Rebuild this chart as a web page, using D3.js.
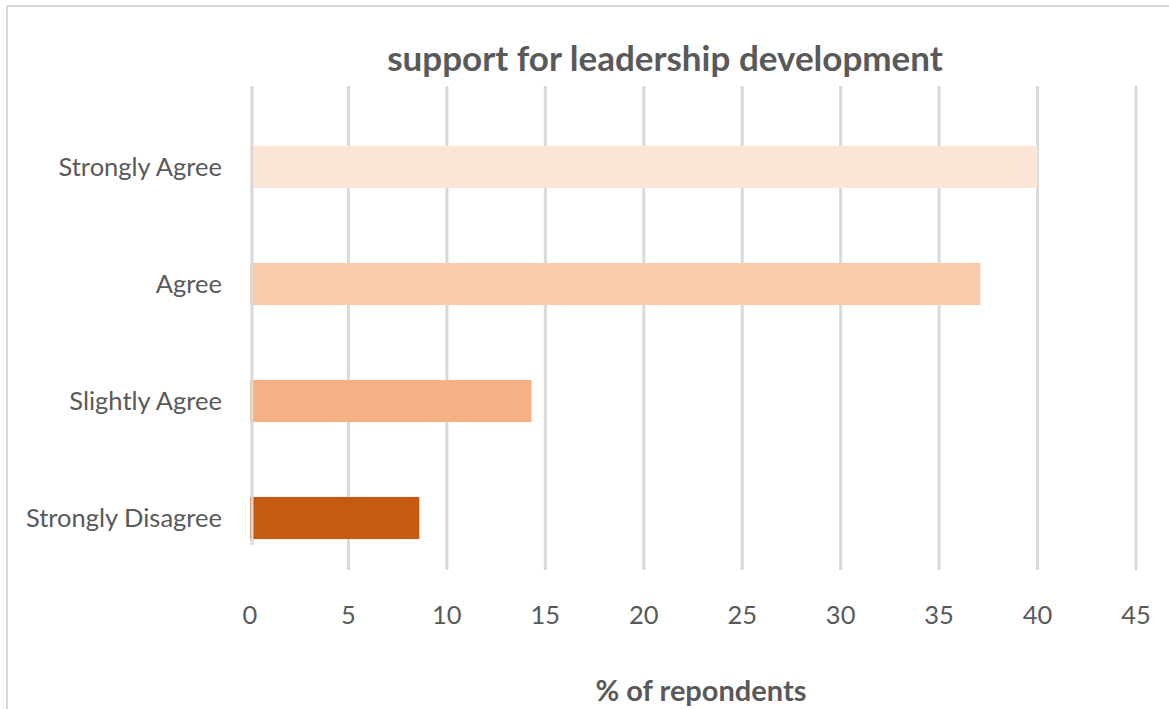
<!DOCTYPE html>
<html>
<head>
<meta charset="utf-8">
<script src="https://cdn.jsdelivr.net/npm/d3@7"></script>
<style>
  html, body { margin: 0; padding: 0; background: #fff; }
  svg { display: block; }
  text { font-family: Lato, "Open Sans", sans-serif; fill: #595959; }
</style>
</head>
<body>
<script>
const categories = ["Strongly Agree", "Agree", "Slightly Agree", "Strongly Disagree"];
const values = [40, 37.1, 14.3, 8.6];
const barColors = ["#FBE5D6", "#F8CBAD", "#F4B183", "#C55A11"];
const tickValues = [0, 5, 10, 15, 20, 25, 30, 35, 40, 45];
const titleText = "support for leadership development";
const xTitleText = "% of repondents";

const W = 1169, H = 709;
const svg = d3.select("body").append("svg").attr("width", W).attr("height", H);

// outer frame
svg.append("rect").attr("x", 7).attr("y", 6).attr("width", W + 20).attr("height", H + 20)
  .attr("fill", "none").attr("stroke", "#d9d9d9").attr("stroke-width", 2);

const x = d3.scaleLinear().domain([0, 45]).range([250, 1136]);
const y = d3.scaleBand().domain(categories).range([108.5, 576.5]).paddingInner(0.64).paddingOuter(0.32);

const gridTop = 86, gridBottom = 570;

// gridlines
svg.append("g").selectAll("line").data(tickValues.slice(1)).join("line")
  .attr("x1", d => x(d)).attr("x2", d => x(d))
  .attr("y1", gridTop).attr("y2", gridBottom)
  .attr("stroke", "#d9d9d9").attr("stroke-width", 3);

// bars
svg.append("g").selectAll("rect").data(categories).join("rect")
  .attr("x", x(0))
  .attr("y", d => y(d))
  .attr("width", (d, i) => x(values[i]) - x(0))
  .attr("height", y.bandwidth())
  .attr("fill", (d, i) => barColors[i]);

// zero line on top
svg.append("line").attr("x1", x(0) + 2).attr("x2", x(0) + 2)
  .attr("y1", gridTop).attr("y2", 545)
  .attr("stroke", "#d9d9d9").attr("stroke-width", 3);

// category labels
svg.append("g").selectAll("text").data(categories).join("text")
  .attr("x", 222).attr("y", d => y(d) + y.bandwidth() / 2)
  .attr("dy", "0.35em").attr("text-anchor", "end")
  .attr("font-size", 25.5).text(d => d);

// x tick labels
svg.append("g").selectAll("text").data(tickValues).join("text")
  .attr("x", d => x(d)).attr("y", 624)
  .attr("text-anchor", "middle").attr("font-size", 25.5).text(d => d);

// title
svg.append("text").attr("x", 665).attr("y", 71).attr("text-anchor", "middle")
  .attr("font-size", 35).attr("font-weight", "bold").text(titleText);

// x axis title
svg.append("text").attr("x", 701).attr("y", 701).attr("text-anchor", "middle")
  .attr("font-size", 29).attr("font-weight", "bold").text(xTitleText);
</script>
</body>
</html>
